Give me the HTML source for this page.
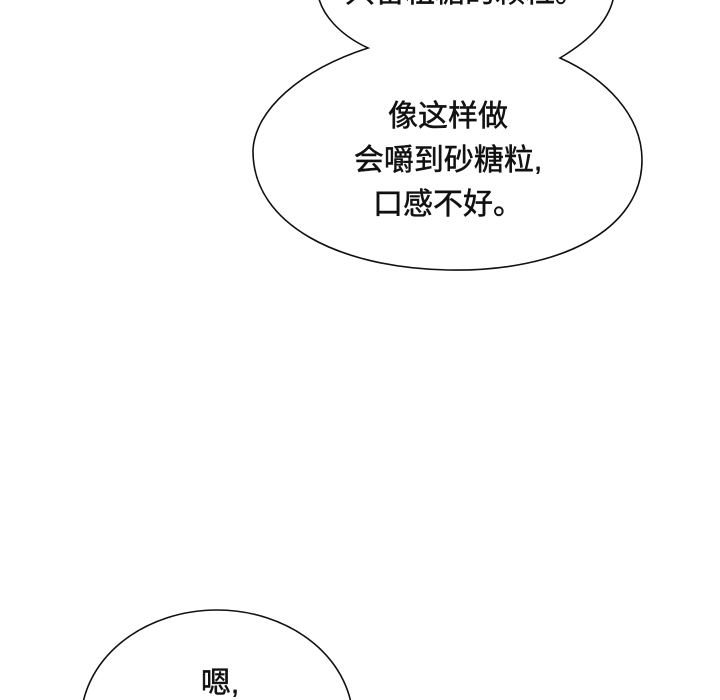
<!DOCTYPE html>
<html><head><meta charset="utf-8"><style>
html,body{margin:0;padding:0;background:#fff;overflow:hidden;}
.w{position:relative;width:720px;height:700px;overflow:hidden;background:#fff;}
svg{position:absolute;left:0;top:0;}
.t{position:absolute;font-family:"Liberation Sans","Noto Sans CJK SC",sans-serif;font-size:30px;color:#111;text-align:center;line-height:44px;-webkit-text-stroke:0.5px #111;}
</style></head><body><div class="w">
<svg width="720" height="700" viewBox="0 0 720 700">
<path d="M318 -5 C322 15 340 35 368 48 C300 70 255 110 253 150 C252 225 340 268 448 270 C560 272 642 230 642 160 C642 115 605 78 560 58 C590 40 610 20 614 -5" fill="#fff" stroke="#111" stroke-width="1.6"/>
<ellipse cx="217" cy="722" rx="136" ry="112" fill="#fff" stroke="#111" stroke-width="1.6"/>
</svg>
<div class="t" style="left:300px;top:-29px;width:330px;">只留粗糖的颗粒。</div>
<div class="t" style="left:298px;top:95px;width:300px;">像这样做<br>会嚼到砂糖粒,<br>口感不好。</div>
<div class="t" style="left:170px;top:662px;width:100px;height:38px;overflow:hidden;">嗯,</div>
</div></body></html>
